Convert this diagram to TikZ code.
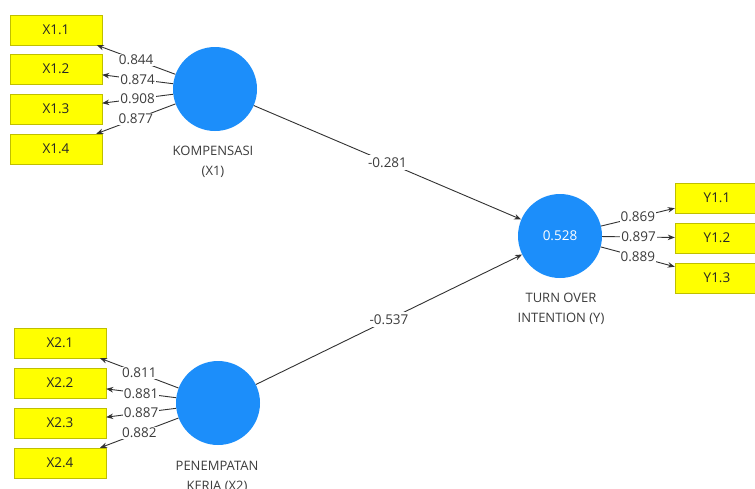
\documentclass[tikz,border=0pt]{standalone}
\usepackage{fontspec}
\setmainfont{Open Sans}
\usetikzlibrary{arrows.meta}
\definecolor{lvblue}{RGB}{28,142,250}
\definecolor{mvyellow}{RGB}{255,255,0}
\definecolor{edgegray}{RGB}{50,50,50}
\definecolor{txtgray}{RGB}{60,60,60}
\tikzset{
  ind/.style={rectangle, fill=mvyellow, draw=mvyellow!75!black, line width=0.4pt,
    minimum width=92pt, minimum height=30pt, inner sep=0pt,
    font=\fontsize{13.5}{15}\selectfont, text=black!85},
  lv/.style={circle, fill=lvblue, draw=none, minimum size=84pt, inner sep=0pt,
    font=\fontsize{13.5}{15}\selectfont, text=white},
  lvname/.style={align=center, font=\fontsize{13}{20}\selectfont, text=txtgray},
  conn/.style={draw=edgegray, line width=0.9pt, -{Stealth[length=7pt,width=5.5pt]}},
  coef/.style={fill=white, inner sep=1pt, font=\fontsize{13.5}{15}\selectfont, text=txtgray},
}
\begin{document}
\begin{tikzpicture}[x=1pt,y=-1pt]
\useasboundingbox[fill=white] (0,0) rectangle (755,488);
% latent variables
\node[lv] (x1) at (215,89) {};
\node[lv] (x2) at (218,403) {};
\node[lv] (y) at (560,236) {0.528};
\node[lvname] (x1n) at (213,162) {KOMPENSASI\\(X1)};
\node[lvname] (x2n) at (217,477) {PENEMPATAN\\KERJA (X2)};
\node[lvname] (yn) at (561,309) {TURN OVER\\INTENTION (Y)};
% indicators X1
\node[ind] (a1) at (56,30) {X1.1};
\node[ind] (a2) at (56,69) {X1.2};
\node[ind] (a3) at (56,109) {X1.3};
\node[ind] (a4) at (56,149) {X1.4};
% indicators X2
\node[ind] (b1) at (60,343) {X2.1};
\node[ind] (b2) at (60,383) {X2.2};
\node[ind] (b3) at (60,423) {X2.3};
\node[ind] (b4) at (60,463) {X2.4};
% indicators Y
\node[ind, minimum width=84pt] (c1) at (717,198) {Y1.1};
\node[ind, minimum width=84pt] (c2) at (717,238) {Y1.2};
\node[ind, minimum width=84pt] (c3) at (717,278) {Y1.3};
% outer loadings
\draw[conn] (x1) -- node[coef] {0.844} (a1);
\draw[conn] (x1) -- node[coef] {0.874} (a2);
\draw[conn] (x1) -- node[coef] {0.908} (a3);
\draw[conn] (x1) -- node[coef] {0.877} (a4);
\draw[conn] (x2) -- node[coef] {0.811} (b1);
\draw[conn] (x2) -- node[coef] {0.881} (b2);
\draw[conn] (x2) -- node[coef] {0.887} (b3);
\draw[conn] (x2) -- node[coef] {0.882} (b4);
\draw[conn] (y) -- node[coef] {0.869} (c1);
\draw[conn] (y) -- node[coef] {0.897} (c2);
\draw[conn] (y) -- node[coef] {0.889} (c3);
% path coefficients
\draw[conn] (x1) -- node[coef, inner sep=3pt] {-0.281} (y);
\draw[conn] (x2) -- node[coef, inner sep=3pt] {-0.537} (y);
\end{tikzpicture}
\end{document}
